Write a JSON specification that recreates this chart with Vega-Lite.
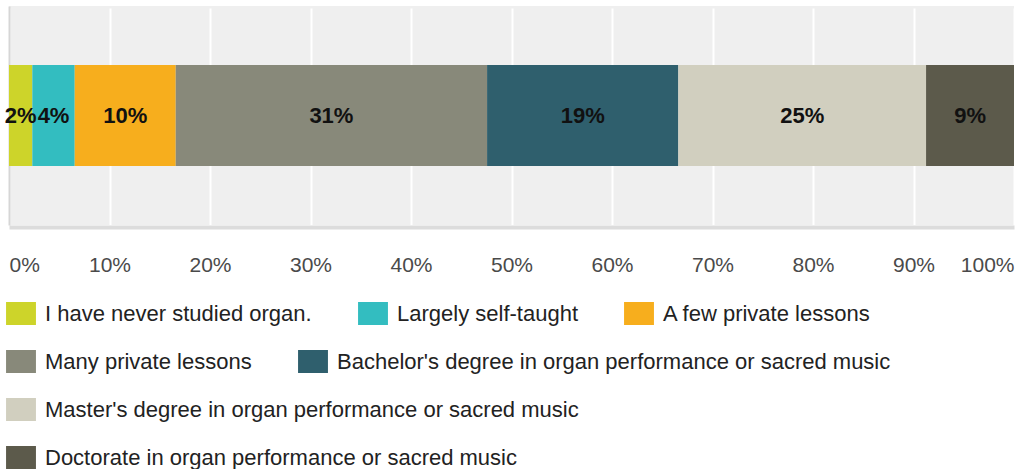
{
  "$schema": "https://vega.github.io/schema/vega-lite/v6.json",
  "autosize": "none",
  "padding": {"left": 9, "top": 6, "right": 2, "bottom": 244},
  "width": 1005,
  "height": 219,
  "background": "white",
  "data": {"values": [
    {"category": "I have never studied organ.", "value": 0.0232, "order": 1},
    {"category": "Largely self-taught", "value": 0.0422, "order": 2},
    {"category": "A few private lessons", "value": 0.1005, "order": 3},
    {"category": "Many private lessons", "value": 0.3098, "order": 4},
    {"category": "Bachelor's degree in organ performance or sacred music", "value": 0.1903, "order": 5},
    {"category": "Master's degree in organ performance or sacred music", "value": 0.2465, "order": 6},
    {"category": "Doctorate in organ performance or sacred music", "value": 0.0875, "order": 7}
  ]},
  "transform": [
    {"stack": "value", "groupby": [], "sort": [{"field": "order", "order": "ascending"}], "as": ["x0", "x1"]}
  ],
  "layer": [
    {
      "transform": [{"filter": "datum.order <= 3"}],
      "mark": {"type": "bar", "strokeWidth": 0},
      "encoding": {
        "x": {"field": "x0", "type": "quantitative", "title": null, "scale": {"domain": [0, 1], "nice": false}, "axis": {"format": ".0%", "values": [0, 0.1, 0.2, 0.3, 0.4, 0.5, 0.6, 0.7, 0.8, 0.9, 1]}},
        "x2": {"field": "x1"},
        "y": {"datum": "Q", "type": "nominal", "title": null, "scale": {"paddingInner": 0, "paddingOuter": 0.584}},
        "color": {"field": "category", "type": "nominal", "title": null,
          "scale": {"domain": ["I have never studied organ.", "Largely self-taught", "A few private lessons"], "range": ["#cdd42a", "#33bdc0", "#f7ae1d"]},
          "legend": {"orient": "none", "legendX": 0.5, "legendY": 296, "direction": "horizontal", "columns": 0}}
      }
    },
    {
      "transform": [{"filter": "datum.order == 4 || datum.order == 5"}],
      "mark": {"type": "bar", "strokeWidth": 0},
      "encoding": {
        "x": {"field": "x0", "type": "quantitative", "title": null, "scale": {"domain": [0, 1], "nice": false}, "axis": {"format": ".0%", "values": [0, 0.1, 0.2, 0.3, 0.4, 0.5, 0.6, 0.7, 0.8, 0.9, 1]}},
        "x2": {"field": "x1"},
        "y": {"datum": "Q", "type": "nominal", "title": null},
        "fill": {"field": "category", "type": "nominal", "title": null,
          "scale": {"domain": ["Many private lessons", "Bachelor's degree in organ performance or sacred music"], "range": ["#88897a", "#2f5f6d"]},
          "legend": {"orient": "none", "legendX": 0.5, "legendY": 344, "direction": "horizontal", "columns": 0}}
      }
    },
    {
      "transform": [{"filter": "datum.order == 6"}],
      "mark": {"type": "bar", "fill": "#d1cfbf", "strokeWidth": 0},
      "encoding": {
        "x": {"field": "x0", "type": "quantitative", "title": null, "scale": {"domain": [0, 1], "nice": false}, "axis": {"format": ".0%", "values": [0, 0.1, 0.2, 0.3, 0.4, 0.5, 0.6, 0.7, 0.8, 0.9, 1]}},
        "x2": {"field": "x1"},
        "y": {"datum": "Q", "type": "nominal", "title": null},
        "stroke": {"field": "category", "type": "nominal", "title": null,
          "scale": {"domain": ["Master's degree in organ performance or sacred music"], "range": ["#d1cfbf"]},
          "legend": {"orient": "none", "legendX": 0.5, "legendY": 392, "direction": "horizontal", "columns": 0, "symbolFillColor": "#d1cfbf"}}
      }
    },
    {
      "transform": [{"filter": "datum.order == 7"}],
      "mark": {"type": "bar", "color": "#5c5a4b", "strokeWidth": 0},
      "encoding": {
        "x": {"field": "x0", "type": "quantitative", "title": null, "scale": {"domain": [0, 1], "nice": false}, "axis": {"format": ".0%", "values": [0, 0.1, 0.2, 0.3, 0.4, 0.5, 0.6, 0.7, 0.8, 0.9, 1]}},
        "x2": {"field": "x1"},
        "y": {"datum": "Q", "type": "nominal", "title": null},
        "opacity": {"field": "category", "type": "nominal", "title": null,
          "scale": {"domain": ["Doctorate in organ performance or sacred music"], "range": [1, 1]},
          "legend": {"orient": "none", "legendX": 0.5, "legendY": 440, "direction": "horizontal", "columns": 0, "symbolFillColor": "#5c5a4b", "symbolOpacity": 1}}
      }
    },
    {
      "mark": {"type": "text", "font": "Liberation Sans", "fontSize": 22, "fontWeight": "bold", "color": "#111111", "align": "center", "baseline": "middle"},
      "encoding": {
        "x": {"field": "value", "type": "quantitative", "stack": "zero", "bandPosition": 0.5, "title": null, "scale": {"domain": [0, 1], "nice": false}, "axis": {"format": ".0%", "values": [0, 0.1, 0.2, 0.3, 0.4, 0.5, 0.6, 0.7, 0.8, 0.9, 1]}},
        "order": {"field": "order", "type": "quantitative"},
        "y": {"datum": "Q", "type": "nominal", "title": null},
        "text": {"field": "value", "type": "quantitative", "format": ".0%"}
      }
    }
  ],
  "config": {
    "view": {"fill": "#efefef", "stroke": null},
    "axisX": {
      "labelFlush": true, "ticks": false, "tickSize": 0, "domain": true, "domainColor": "#dcdcdc", "domainWidth": 4, "offset": 2,
      "grid": true, "gridColor": "#ffffff", "gridWidth": 2, "gridOpacity": 1,
      "labelFont": "Liberation Sans", "labelFontSize": 21, "labelColor": "#4a4a4a", "labelPadding": 27, "labelBaseline": "top"
    },
    "axisY": {"labels": false, "ticks": false, "grid": false, "domain": true, "domainColor": "#d6d6d6", "domainWidth": 2},
    "legend": {
      "labelFont": "Liberation Sans", "labelFontSize": 22, "labelColor": "#222222", "labelLimit": 1000,
      "symbolType": "M-1.3,-1H1.3V1H-1.3Z", "symbolSize": 529, "symbolStrokeWidth": 0,
      "columnPadding": 45, "labelOffset": 12.5, "padding": 0
    }
  }
}
